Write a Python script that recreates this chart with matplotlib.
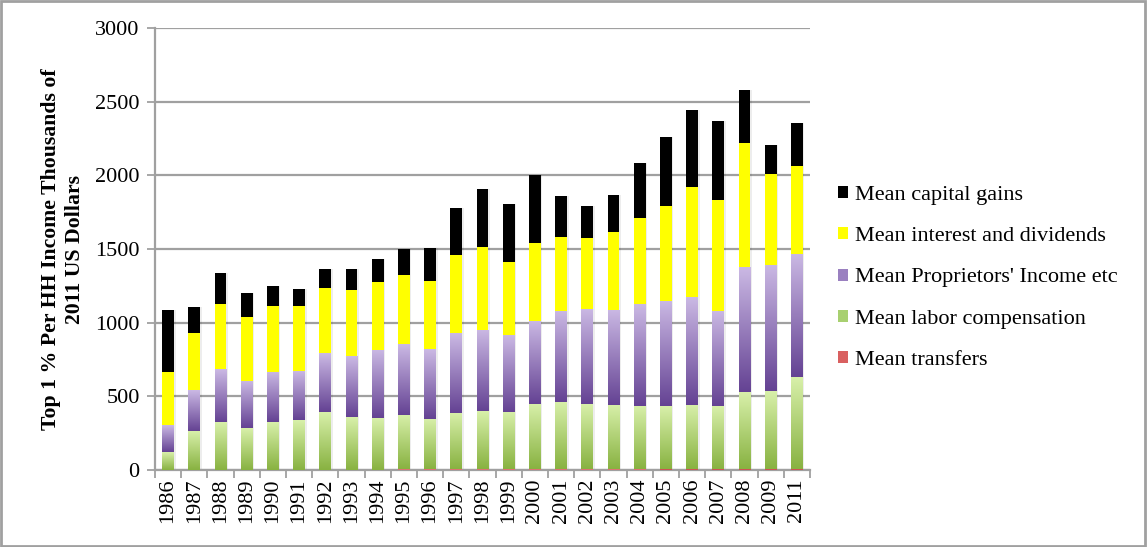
import numpy as np
import matplotlib
matplotlib.use("Agg")
import matplotlib.pyplot as plt
from matplotlib.patches import Patch, Rectangle
from matplotlib.colors import LinearSegmentedColormap

years = ["1986", "1987", "1988", "1989", "1990", "1991", "1992", "1993", "1994",
         "1995", "1996", "1997", "1998", "1999", "2000", "2001", "2002", "2003",
         "2004", "2005", "2006", "2007", "2008", "2009", "2011"]

transfers = [3, 3, 3, 3, 3, 3, 3, 3, 3, 4, 4, 4, 5, 5, 5, 5, 5, 6, 6, 7, 8, 8, 10, 10, 9]
labor = [121, 264, 325, 280, 321, 334, 391, 359, 350, 371, 344, 385, 393, 391, 443, 455,
         441, 435, 431, 425, 435, 424, 520, 526, 622]
proprietors = [181, 276, 358, 321, 341, 335, 400, 414, 462, 480, 473, 541, 552, 520, 564,
               619, 647, 645, 690, 715, 731, 647, 848, 856, 837]
interest = [362, 389, 443, 437, 450, 443, 444, 444, 463, 469, 464, 532, 566, 494, 527,
            505, 484, 532, 586, 647, 749, 756, 844, 619, 598]
capital_gains = [419, 172, 206, 159, 132, 112, 124, 142, 152, 176, 220, 315, 389, 394, 461,
                 274, 213, 247, 369, 465, 519, 532, 356, 193, 288]

labels = ["Mean capital gains", "Mean interest and dividends",
          "Mean Proprietors' Income etc", "Mean labor compensation", "Mean transfers"]

W, H = 1147, 547
fig = plt.figure(figsize=(W / 100, H / 100), dpi=100)
ax = fig.add_axes([155 / W, 1 - 470 / H, (810 - 155) / W, (470 - 28) / H])

serif = ["Liberation Serif", "DejaVu Serif"]
x = np.arange(len(years))
bw = 0.45

green_cmap = LinearSegmentedColormap.from_list("g", ["#88b241", "#d8f0aa"])
purple_cmap = LinearSegmentedColormap.from_list("p", ["#644293", "#cbb9e4"])
red_cmap = LinearSegmentedColormap.from_list("r", ["#c0393a", "#f09a98"])
grad = np.linspace(0, 1, 256).reshape(-1, 1)

series = [
    (transfers, red_cmap, None),
    (labor, green_cmap, None),
    (proprietors, purple_cmap, None),
    (interest, None, "#ffff00"),
    (capital_gains, None, "#000000"),
]

bottom = np.zeros(len(years))
for vals, cmap, col in series:
    vals = np.array(vals, dtype=float)
    # soft shadow
    ax.bar(x + 0.06, vals, bw, bottom=bottom, color="#000000", alpha=0.07,
           linewidth=0, zorder=2)
    if cmap is None:
        ax.bar(x, vals, bw, bottom=bottom, color=col, linewidth=0, zorder=3)
    else:
        bars = ax.bar(x, vals, bw, bottom=bottom, color="none", linewidth=0, zorder=3)
        for b in bars:
            x0, y0 = b.get_x(), b.get_y()
            im = ax.imshow(grad, extent=[x0, x0 + b.get_width(), y0, y0 + b.get_height()],
                           origin="lower", aspect="auto", cmap=cmap, zorder=3,
                           interpolation="bilinear")
            im.set_clip_path(b)
    bottom += vals

ax.set_xlim(-0.5, len(years) - 0.5)
ax.set_ylim(0, 3000)
ax.set_aspect("auto")

ax.set_yticks(np.arange(0, 3001, 500))
ax.set_yticklabels([str(v) for v in range(0, 3001, 500)], fontfamily=serif, fontsize=16)
ax.yaxis.grid(True, color="#a0a0a0", linewidth=1.6, zorder=0)
ax.set_axisbelow(True)

ax.set_xticks(x)
ax.set_xticklabels(years, rotation=90, fontfamily=serif, fontsize=16)
ax.set_xticks(np.arange(-0.5, len(years), 1), minor=True)
ax.tick_params(axis="x", which="major", length=0, pad=6)
ax.tick_params(axis="x", which="minor", length=6, color="#a0a0a0", width=1.3)
ax.tick_params(axis="y", length=6, color="#a0a0a0", width=1.3, pad=5)

for s in ["top", "right"]:
    ax.spines[s].set_visible(False)
for s in ["left", "bottom"]:
    ax.spines[s].set_color("#a0a0a0")
    ax.spines[s].set_linewidth(1.6)

ax.set_ylabel("Top 1 % Per HH Income Thousands of\n2011 US Dollars", fontfamily=serif,
              fontsize=15.7, fontweight="bold", labelpad=7, linespacing=1.3)

handles = [
    Patch(facecolor="#000000"),
    Patch(facecolor="#ffff00"),
    Patch(facecolor="#9a80c0"),
    Patch(facecolor="#a8d070"),
    Patch(facecolor="#d96060"),
]
fig.legend(handles, labels, loc="upper left", bbox_to_anchor=(818 / W, 1 - 166 / H),
           frameon=False, prop={"family": serif, "size": 16}, handlelength=0.45,
           handleheight=0.45, handletextpad=0.3, labelspacing=1.0)

fig.add_artist(Rectangle((0.001, 0.002), 0.997, 0.996, transform=fig.transFigure,
                         fill=False, edgecolor="#a0a0a0", linewidth=2))

fig.savefig("out.png", dpi=100)
